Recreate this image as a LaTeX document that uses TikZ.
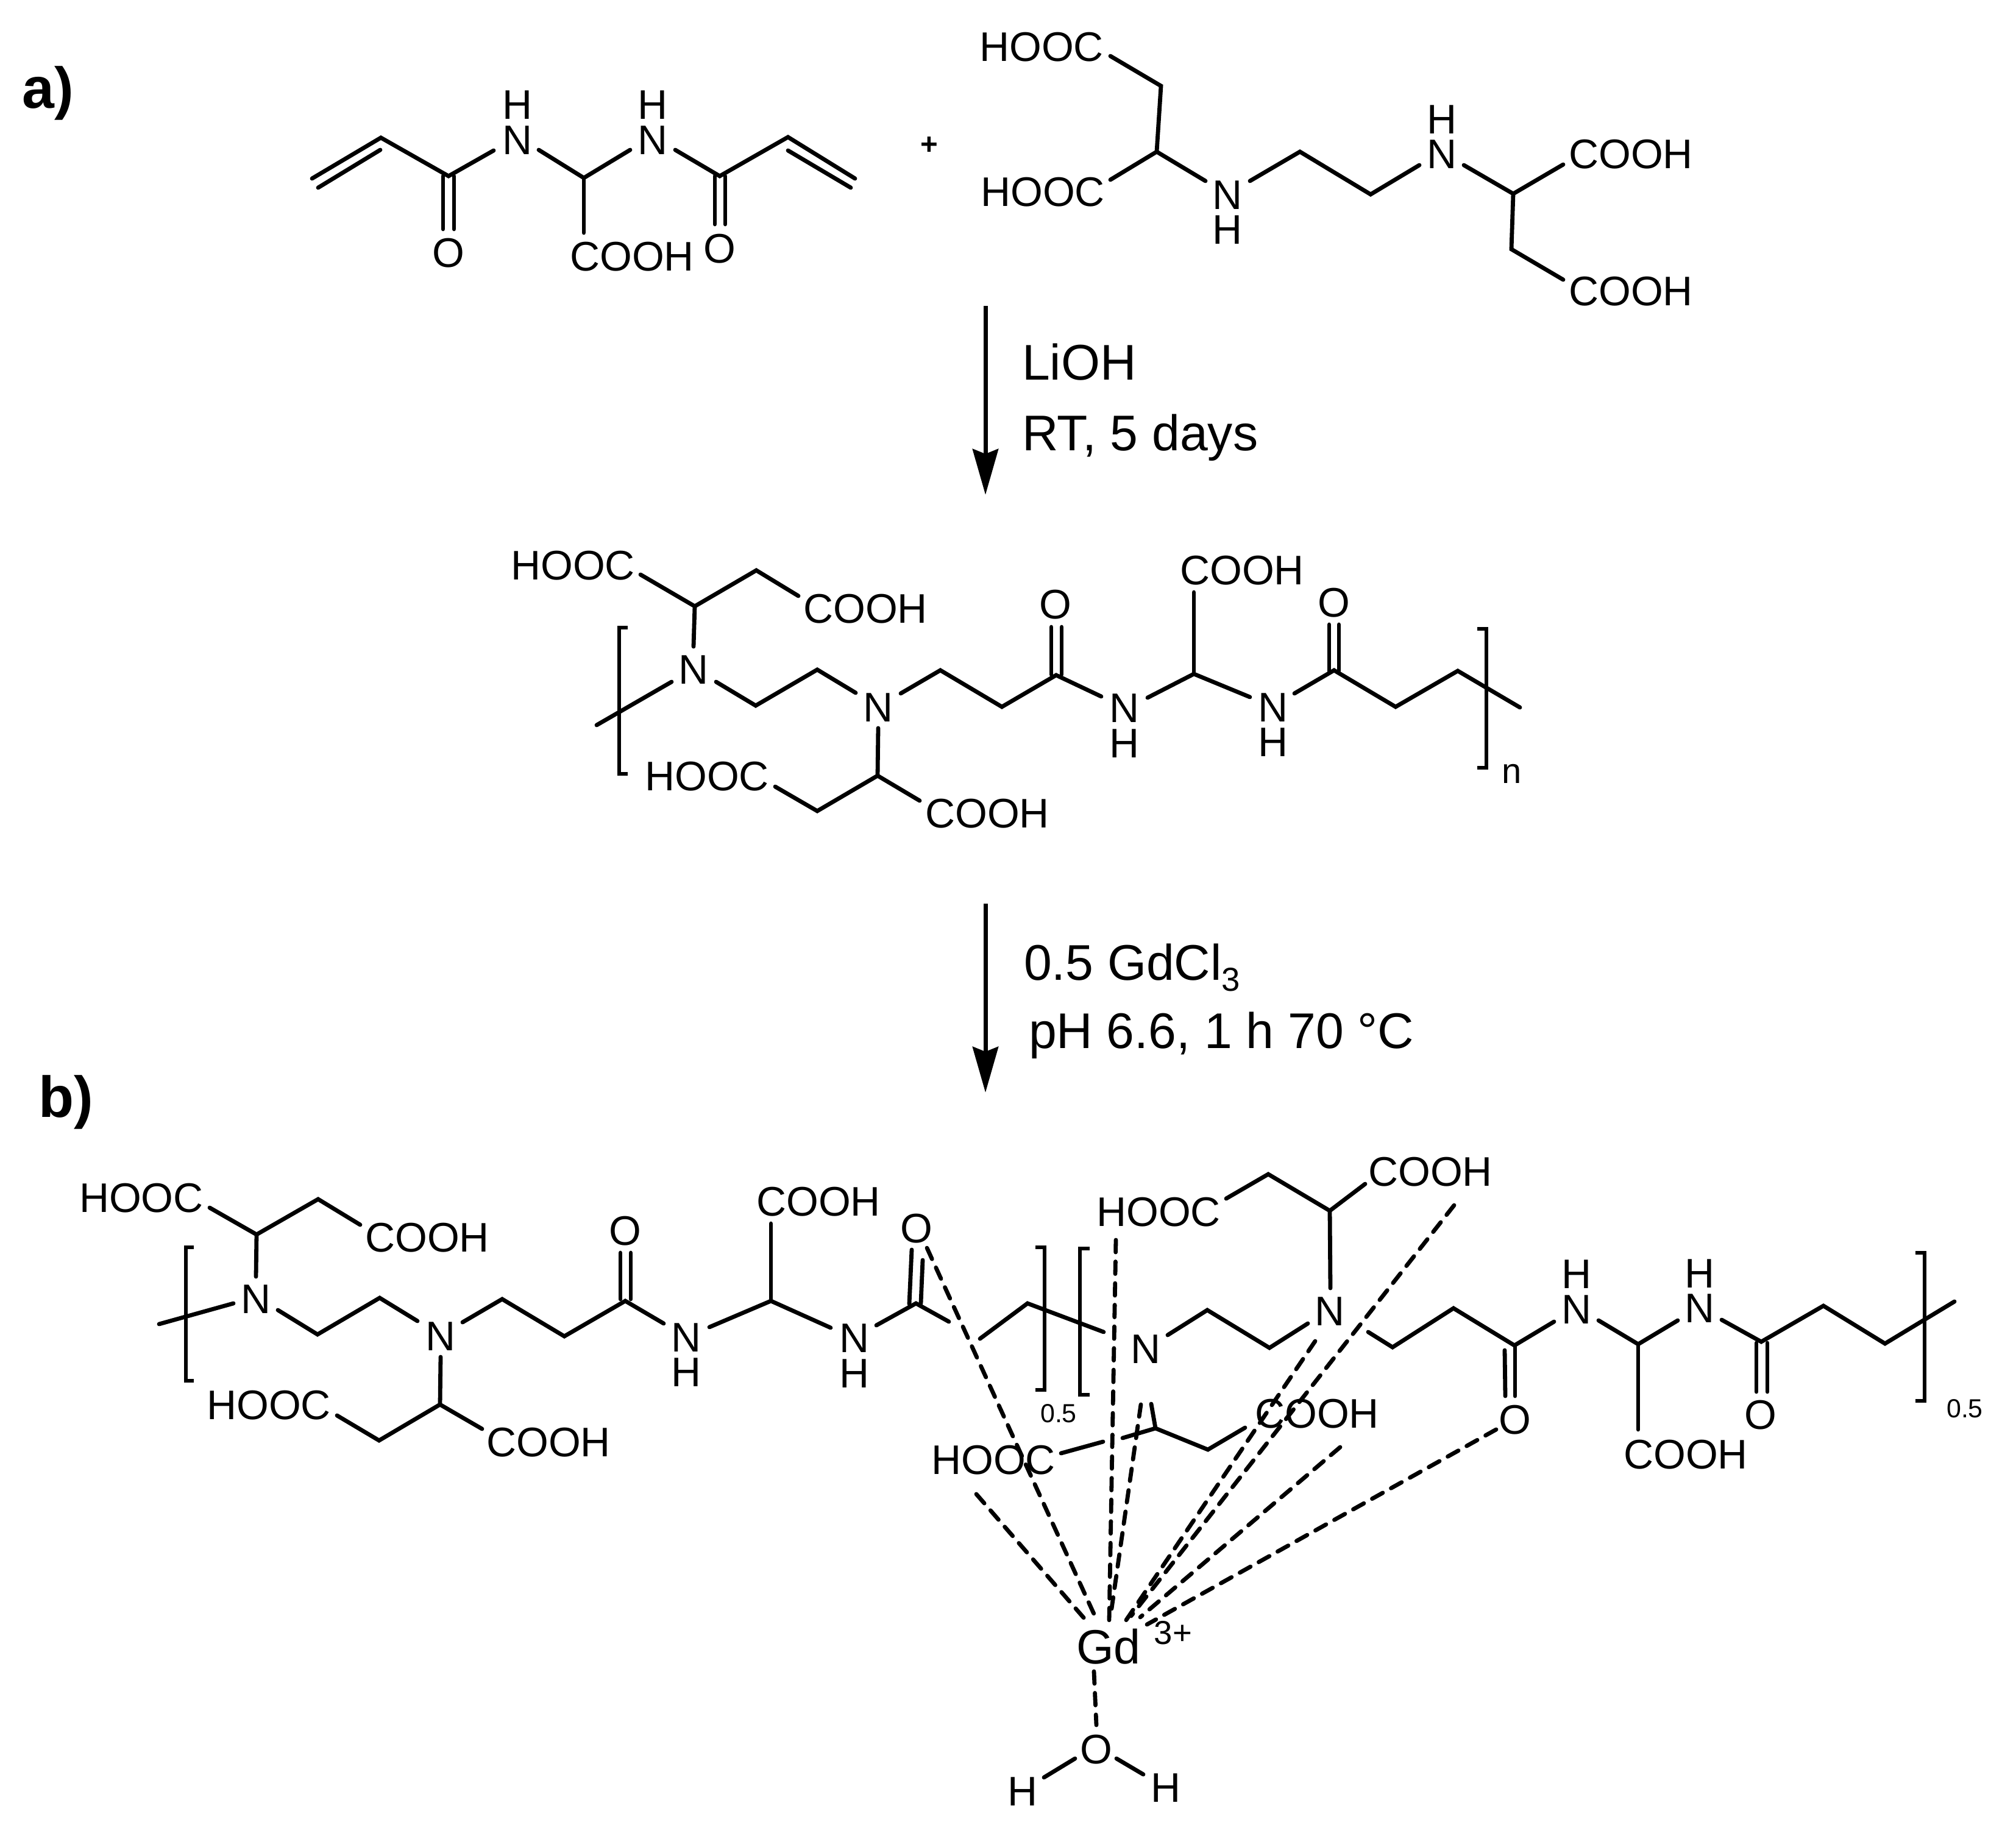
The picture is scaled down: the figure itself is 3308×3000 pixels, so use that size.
\documentclass[tikz,border=0pt]{standalone}
\usepackage{fontspec}
\setmainfont{Liberation Sans}
\usetikzlibrary{arrows.meta}
\tikzset{
  bond/.style={draw=black,line width=0.068cm,line cap=round,line join=miter},
  brk/.style={draw=black,line width=0.068cm,line cap=butt,line join=miter},
  cbond/.style={draw=black,line width=0.068cm,line cap=round,dash pattern=on 0.2cm off 0.155cm},
  atom/.style={inner sep=0pt,outer sep=0pt,text height=0.48cm,text depth=0pt,font=\fontsize{19.3pt}{20pt}\selectfont},
  small/.style={inner sep=0pt,outer sep=0pt,text height=0.31cm,text depth=0pt,font=\fontsize{12.2pt}{13pt}\selectfont},
  cond/.style={inner sep=0pt,outer sep=0pt,anchor=base west,font=\fontsize{23.4pt}{25pt}\selectfont},
  panel/.style={inner sep=0pt,outer sep=0pt,anchor=base west,font=\fontsize{27pt}{29pt}\bfseries\selectfont},
  rxn/.style={draw=black,line width=0.07cm,-{Stealth[length=0.75cm,width=0.42cm,inset=0.08cm]}}
}
\begin{document}
\begin{tikzpicture}[x=0.01cm,y=-0.01cm]
\useasboundingbox (0,0) rectangle (3308,3000);
\fill[white] (0,0) rectangle (3308,3000);

% panel labels
\node[panel] (pa) at (37,178) {a)};
\node[panel] (pb) at (63,1833) {b)};

% ---------- diacrylamide ----------
\draw[bond] (512,293) -- (625,226) -- (736,289) -- (810,247);
\draw[bond] (522,308) -- (624,246);
\draw[bond] (727,289) -- (727,376) (745,289) -- (745,376);
\draw[bond] (884,246) -- (958,292) -- (1034,246);
\draw[bond] (958,292) -- (958,382);
\draw[bond] (1108,246) -- (1181,289) -- (1293,225) -- (1403,293);
\draw[bond] (1293,247) -- (1396,308);
\draw[bond] (1173,289) -- (1173,368) (1190,289) -- (1190,368);
\node[atom] (a1n) at (849,229) {N};
\node[atom] (a1h) at (849,171) {H};
\node[atom] (a2n) at (1071,229) {N};
\node[atom] (a2h) at (1071,171) {H};
\node[atom] (a1o) at (736,414) {O};
\node[atom] (a2o) at (1181,407) {O};
\node[atom] (a1c) at (1037,420) {COOH};
\node[inner sep=0pt,font=\fontsize{14pt}{15pt}\bfseries\selectfont] (plus) at (1525,239) {+};

% ---------- EDDS ----------
\draw[bond] (1822,92) -- (1905,141) -- (1898,249) -- (1822,295);
\draw[bond] (1898,249) -- (1978,297);
\draw[bond] (2051,297) -- (2133,249) -- (2249,319) -- (2329,271);
\draw[bond] (2402,271) -- (2483,318) -- (2565,270);
\draw[bond] (2483,318) -- (2480,409) -- (2565,459);
\node[atom] (e1) at (1709,76) {HOOC};
\node[atom] (e2) at (1711,314) {HOOC};
\node[atom] (e1n) at (2014,319) {N};
\node[atom] (e1h) at (2014,376) {H};
\node[atom] (e2n) at (2366,252) {N};
\node[atom] (e2h) at (2366,195) {H};
\node[atom] (e3) at (2676,252) {COOH};
\node[atom] (e4) at (2676,477) {COOH};

% ---------- reaction arrows ----------
\coordinate (r1a) at (1617,502);
\coordinate (r1b) at (1617,812);
\coordinate (r2a) at (1617,1483);
\coordinate (r2b) at (1617,1793);
\draw[rxn] (r1a) -- (r1b);
\draw[rxn] (r2a) -- (r2b);
\node[cond] (t1) at (1677,623) {LiOH};
\node[cond] (t2) at (1677,739) {RT, 5 days};
\node[cond] (t3) at (1680,1608) {0.5 GdCl\raisebox{-0.22em}{\fontsize{15.5pt}{16pt}\selectfont 3}};
\node[cond] (t4) at (1688,1720) {pH 6.6, 1 h 70 °C};

% ---------- polymer, scheme a ----------
\draw[bond] (1051,943) -- (1140,995) -- (1241,936) -- (1310,978);
\draw[bond] (1140,995) -- (1138,1061);
\draw[bond] (1102,1119) -- (979,1190);
\draw[bond] (1175,1119) -- (1240,1158) -- (1341,1099) -- (1404,1137);
\draw[bond] (1478,1138) -- (1543,1100) -- (1644,1160) -- (1733,1108) -- (1807,1143);
\draw[bond] (1725,1107) -- (1725,1029) (1742,1107) -- (1742,1029);
\draw[bond] (1441,1195) -- (1440,1273) -- (1341,1331) -- (1272,1291);
\draw[bond] (1440,1273) -- (1509,1314);
\draw[bond] (1883,1145) -- (1959,1106) -- (2051,1144);
\draw[bond] (1959,1106) -- (1959,972);
\draw[bond] (2124,1138) -- (2189,1100) -- (2290,1160) -- (2392,1101) -- (2494,1161);
\draw[bond] (2181,1101) -- (2181,1025) (2197,1101) -- (2197,1025);
\draw[brk] (1030,1030) -- (1016,1030) -- (1016,1270) -- (1030,1270);
\draw[brk] (2424,1032) -- (2439,1032) -- (2439,1260) -- (2424,1260);
\node[atom] (p1) at (940,927) {HOOC};
\node[atom] (p2) at (1420,998) {COOH};
\node[atom] (p1n) at (1138,1098) {N};
\node[atom] (p2n) at (1441,1160) {N};
\node[atom] (p1o) at (1732,991) {O};
\node[atom] (p3) at (1160,1273) {HOOC};
\node[atom] (p4) at (1620,1334) {COOH};
\node[atom] (p3n) at (1845,1161) {N};
\node[atom] (p3h) at (1845,1219) {H};
\node[atom] (p5) at (2038,935) {COOH};
\node[atom] (p4n) at (2089,1160) {N};
\node[atom] (p4h) at (2089,1217) {H};
\node[atom] (p2o) at (2189,988) {O};
\node[inner sep=0pt,text height=0.3cm,text depth=0pt,font=\fontsize{16.5pt}{17pt}\selectfont] (pn) at (2481,1270) {n};

% ---------- polymer, scheme b, left unit ----------
\draw[bond] (344,1982) -- (421,2026) -- (522,1968) -- (591,2010);
\draw[bond] (421,2026) -- (420,2095);
\draw[bond] (383,2139) -- (261,2173);
\draw[bond] (456,2150) -- (521,2190) -- (623,2130) -- (685,2168);
\draw[bond] (759,2170) -- (824,2132) -- (926,2193) -- (1026,2135) -- (1089,2172);
\draw[bond] (1018,2132) -- (1018,2056) (1035,2132) -- (1035,2056);
\draw[bond] (723,2227) -- (722,2305) -- (622,2364) -- (553,2323);
\draw[bond] (722,2305) -- (791,2345);
\draw[bond] (1164,2178) -- (1265,2135) -- (1363,2179);
\draw[bond] (1265,2135) -- (1265,2008);
\draw[bond] (1438,2175) -- (1503,2139) -- (1557,2169);
\draw[bond] (1492,2140) -- (1496,2051);
\draw[bond] (1511,2139) -- (1514,2068);
\draw[bond] (1608,2197) -- (1686,2139) -- (1811,2186);
\draw[brk] (318,2047) -- (305,2047) -- (305,2266) -- (318,2266);
\draw[brk] (1699,2047) -- (1714,2047) -- (1714,2281) -- (1699,2281);
\draw[brk] (1788,2049) -- (1772,2049) -- (1772,2289) -- (1788,2289);
\node[atom] (q1) at (232,1965) {HOOC};
\node[atom] (q2) at (701,2030) {COOH};
\node[atom] (q1n) at (420,2131) {N};
\node[atom] (q2n) at (723,2192) {N};
\node[atom] (q1o) at (1026,2019) {O};
\node[atom] (q3) at (441,2305) {HOOC};
\node[atom] (q4) at (900,2366) {COOH};
\node[atom] (q3n) at (1126,2194) {N};
\node[atom] (q3h) at (1126,2251) {H};
\node[atom] (q5) at (1343,1971) {COOH};
\node[atom] (q4n) at (1402,2195) {N};
\node[atom] (q4h) at (1402,2253) {H};
\node[atom] (q2o) at (1504,2015) {O};
\node[small] (s1) at (1737,2319) {0.5};

% ---------- polymer, scheme b, right unit ----------
\draw[bond] (2012,1967) -- (2081,1927) -- (2182,1987) -- (2240,1943);
\draw[bond] (2182,1987) -- (2183,2114);
\draw[bond] (1916,2191) -- (1981,2150) -- (2083,2212) -- (2146,2172);
\draw[bond] (2245,2186) -- (2285,2211) -- (2385,2147) -- (2485,2208) -- (2550,2169);
\draw[bond] (2486,2208) -- (2486,2291);
\draw[bond] (2469,2216) -- (2470,2291);
\draw[bond] (1741,2385) -- (1810,2366);
\draw[bond] (1842,2360) -- (1896,2344) -- (1982,2379) -- (2043,2343);
\draw[bond] (1896,2344) -- (1889,2304);
\draw[bond] (2623,2167) -- (2688,2206) -- (2753,2167);
\draw[bond] (2688,2206) -- (2688,2346);
\draw[bond] (2825,2166) -- (2890,2202) -- (2992,2143) -- (3093,2205) -- (3207,2136);
\draw[bond] (2882,2204) -- (2882,2284) (2900,2204) -- (2900,2284);
\draw[brk] (3143,2056) -- (3158,2056) -- (3158,2299) -- (3143,2299);
\node[atom] (u1) at (1901,1988) {HOOC};
\node[atom] (u2) at (2347,1922) {COOH};
\node[atom] (u1n) at (2182,2151) {N};
\node[atom] (u2n) at (1880,2213) {N};
\node[atom] (u3) at (1630,2395) {HOOC};
\node[atom] (u4) at (2161,2319) {COOH};
\node[atom] (u1o) at (2486,2329) {O};
\node[atom] (u3n) at (2587,2148) {N};
\node[atom] (u3h) at (2587,2090) {H};
\node[atom] (u4n) at (2789,2146) {N};
\node[atom] (u4h) at (2789,2089) {H};
\node[atom] (u5) at (2766,2386) {COOH};
\node[atom] (u2o) at (2889,2321) {O};
\node[small] (s2) at (3224,2311) {0.5};

% ---------- Gd centre ----------
\node[inner sep=0pt,outer sep=0pt,text height=0.58cm,text depth=0pt,font=\fontsize{22.5pt}{24pt}\selectfont] (gd) at (1819,2701) {Gd};
\node[inner sep=0pt,outer sep=0pt,text height=0.37cm,text depth=0pt,font=\fontsize{15.5pt}{16pt}\selectfont] (gdc) at (1925,2680) {3+};
\node[atom] (wo) at (1799,2870) {O};
\node[atom] (wh1) at (1678,2939) {H};
\node[atom] (wh2) at (1913,2933) {H};
\draw[bond] (1764,2886) -- (1713,2917);
\draw[bond] (1832,2886) -- (1876,2912);

% coordination ends
\coordinate (c1a) at (1521,2048); \coordinate (c1b) at (1797,2653);
\coordinate (c2a) at (1602,2452); \coordinate (c2b) at (1780,2657);
\coordinate (c3a) at (1831,2035); \coordinate (c3b) at (1820,2659);
\coordinate (c4a) at (1872,2305); \coordinate (c4b) at (1824,2640);
\coordinate (c5a) at (2158,2201); \coordinate (c5b) at (1843,2666);
\coordinate (c6a) at (2386,1978); \coordinate (c6b) at (1856,2652);
\coordinate (c7a) at (2199,2375); \coordinate (c7b) at (1871,2654);
\coordinate (c8a) at (2455,2346); \coordinate (c8b) at (1882,2666);
\coordinate (c9a) at (1795,2743); \coordinate (c9b) at (1799,2831);
\foreach \n in {1,...,9} {\draw[cbond] (c\n a) -- (c\n b);}
\end{tikzpicture}
\end{document}
